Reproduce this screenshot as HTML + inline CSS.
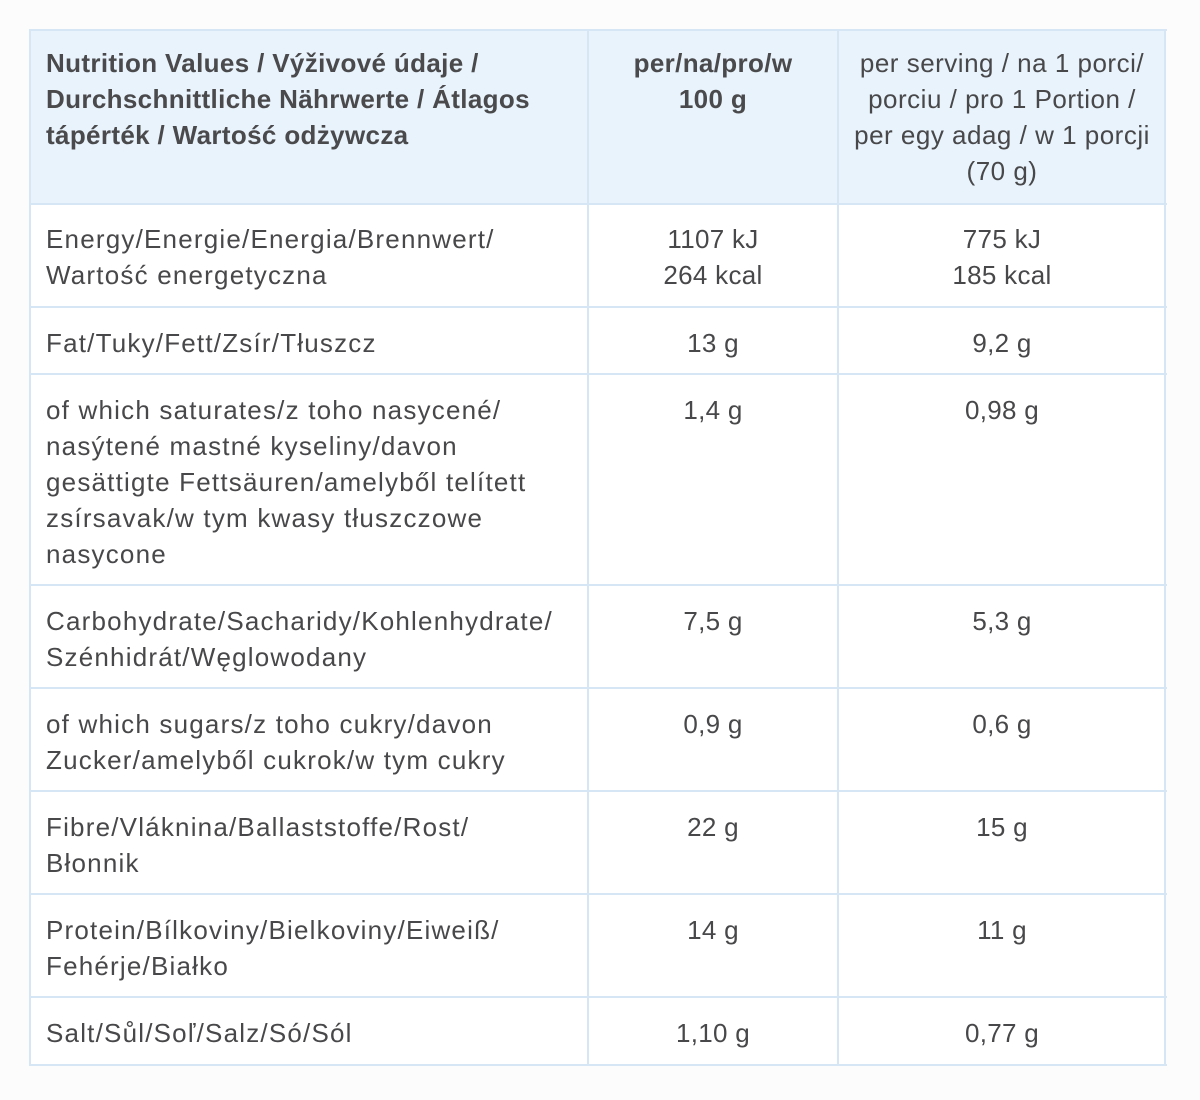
<!DOCTYPE html>
<html>
<head>
<meta charset="utf-8">
<style>
  html,body{margin:0;padding:0;}
  body{width:1200px;height:1100px;background:#fcfcfd;position:relative;overflow:hidden;
       font-family:"Liberation Sans",sans-serif;color:#48484a;}
  .hdr{position:absolute;left:30px;top:30px;width:1136px;height:174px;background:#e9f3fc;}
  .body{position:absolute;left:30px;top:204px;width:1136px;height:861px;background:#ffffff;}
  .h{position:absolute;height:2px;background:#d6e6f5;left:29px;width:1138px;}
  .v{position:absolute;width:2px;background:#d6e6f5;top:29px;height:1037px;}
  .t{position:absolute;font-size:26px;line-height:36px;white-space:nowrap;letter-spacing:0.3px;}
  .c1{left:46px;letter-spacing:1.2px;}
  .c2{left:590px;width:246px;text-align:center;}
  .c3{left:840px;width:324px;text-align:center;}
  .b{font-weight:bold;letter-spacing:0.35px;color:#4a4a4c;}
</style>
</head>
<body>
<div class="hdr"></div>
<div class="body"></div>

<div class="h" style="top:29px"></div>
<div class="h" style="top:203px"></div>
<div class="h" style="top:306px"></div>
<div class="h" style="top:373px"></div>
<div class="h" style="top:584px"></div>
<div class="h" style="top:687px"></div>
<div class="h" style="top:790px"></div>
<div class="h" style="top:893px"></div>
<div class="h" style="top:996px"></div>
<div class="h" style="top:1064px"></div>

<div class="v" style="left:29px"></div>
<div class="v" style="left:587px"></div>
<div class="v" style="left:837px"></div>
<div class="v" style="left:1164px"></div>

<!-- header -->
<div class="t c1 b" style="top:45px">Nutrition Values / Výživové údaje /<br>Durchschnittliche Nährwerte / Átlagos<br>tápérték / Wartość odżywcza</div>
<div class="t c2 b" style="top:45px">per/na/pro/w<br>100 g</div>
<div class="t c3" style="top:45px;letter-spacing:0.5px">per serving / na 1 porci/<br>porciu / pro 1 Portion /<br>per egy adag / w 1 porcji<br>(70 g)</div>

<!-- energy -->
<div class="t c1" style="top:221px">Energy/Energie/Energia/Brennwert/<br>Wartość energetyczna</div>
<div class="t c2" style="top:221px">1107 kJ<br>264 kcal</div>
<div class="t c3" style="top:221px">775 kJ<br>185 kcal</div>

<!-- fat -->
<div class="t c1" style="top:325px">Fat/Tuky/Fett/Zsír/Tłuszcz</div>
<div class="t c2" style="top:325px">13 g</div>
<div class="t c3" style="top:325px">9,2 g</div>

<!-- saturates -->
<div class="t c1" style="top:392px">of which saturates/z toho nasycené/<br>nasýtené mastné kyseliny/davon<br>gesättigte Fettsäuren/amelyből telített<br>zsírsavak/w tym kwasy tłuszczowe<br>nasycone</div>
<div class="t c2" style="top:392px">1,4 g</div>
<div class="t c3" style="top:392px">0,98 g</div>

<!-- carbohydrate -->
<div class="t c1" style="top:603px">Carbohydrate/Sacharidy/Kohlenhydrate/<br>Szénhidrát/Węglowodany</div>
<div class="t c2" style="top:603px">7,5 g</div>
<div class="t c3" style="top:603px">5,3 g</div>

<!-- sugars -->
<div class="t c1" style="top:706px">of which sugars/z toho cukry/davon<br>Zucker/amelyből cukrok/w tym cukry</div>
<div class="t c2" style="top:706px">0,9 g</div>
<div class="t c3" style="top:706px">0,6 g</div>

<!-- fibre -->
<div class="t c1" style="top:809px">Fibre/Vláknina/Ballaststoffe/Rost/<br>Błonnik</div>
<div class="t c2" style="top:809px">22 g</div>
<div class="t c3" style="top:809px">15 g</div>

<!-- protein -->
<div class="t c1" style="top:912px">Protein/Bílkoviny/Bielkoviny/Eiweiß/<br>Fehérje/Białko</div>
<div class="t c2" style="top:912px">14 g</div>
<div class="t c3" style="top:912px">11 g</div>

<!-- salt -->
<div class="t c1" style="top:1015px">Salt/Sůl/Soľ/Salz/Só/Sól</div>
<div class="t c2" style="top:1015px">1,10 g</div>
<div class="t c3" style="top:1015px">0,77 g</div>
</body>
</html>
